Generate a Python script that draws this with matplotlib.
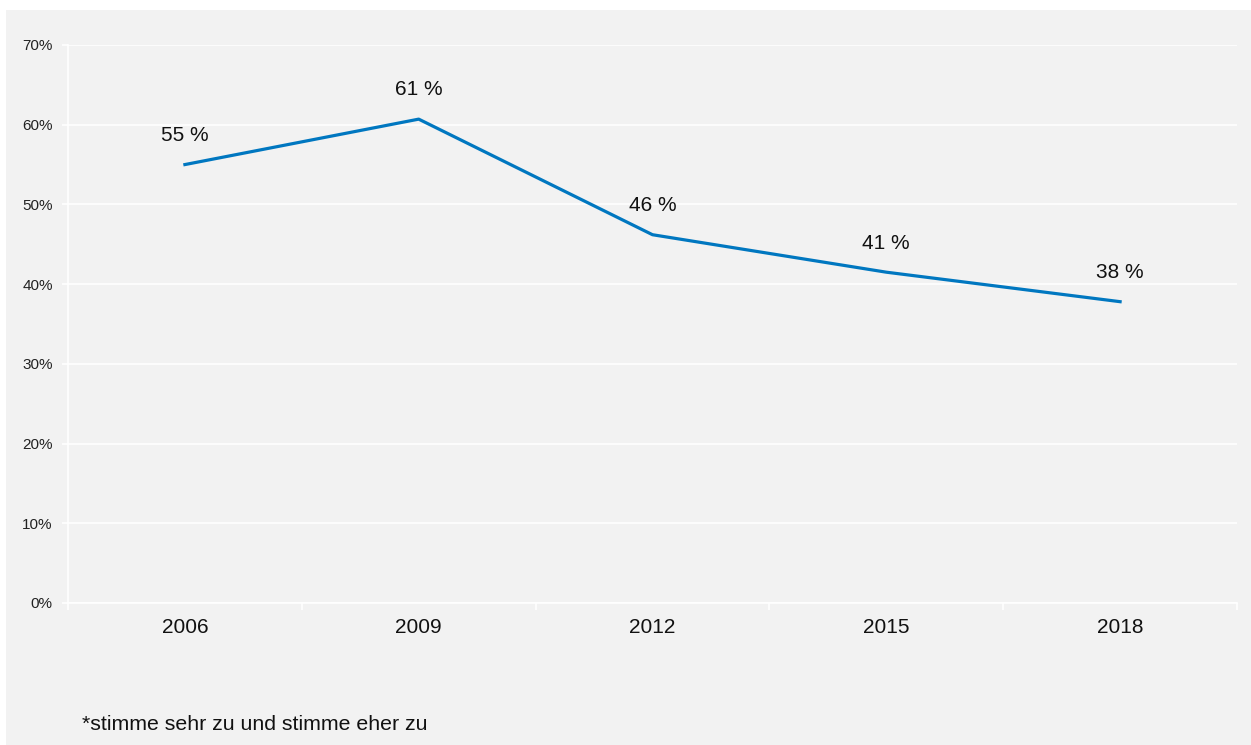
import matplotlib
matplotlib.use('Agg')
import matplotlib.pyplot as plt
from matplotlib.patches import Rectangle
import numpy as np

plt.rcParams['font.family'] = ['Liberation Sans', 'DejaVu Sans']

years = ['2006', '2009', '2012', '2015', '2018']
values = [55.0, 60.7, 46.2, 41.5, 37.8]
labels = ['55 %', '61 %', '46 %', '41 %', '38 %']
yticks = [0, 10, 20, 30, 40, 50, 60, 70]
footnote = '*stimme sehr zu und stimme eher zu'

BG = '#f2f2f2'
BLUE = '#0077c0'

fig = plt.figure(figsize=(12.51, 7.45), dpi=100, facecolor='white')
fig.patches.append(Rectangle((6 / 1251, 0), 1, 735 / 745, transform=fig.transFigure,
                             facecolor=BG, edgecolor='none', zorder=-10))

ax = fig.add_axes([68 / 1251, 142 / 745, 1169 / 1251, 558 / 745])
ax.set_facecolor(BG)

x = np.arange(len(years))
ax.plot(x, values, color=BLUE, linewidth=2.3, zorder=3)
for xi, v, lab in zip(x, values, labels):
    ax.annotate(lab, (xi, v), xytext=(0, 21), textcoords='offset points',
                ha='center', va='center', fontsize=15, color='#111111')

ax.set_xlim(-0.5, len(years) - 0.5)
ax.set_ylim(0, 70)
ax.set_yticks(yticks)
ax.set_yticklabels([f'{t}%' for t in yticks], fontsize=11, color='#222222')
ax.set_xticks(x)
ax.set_xticklabels(years, fontsize=15, color='#111111')
ax.set_xticks(np.arange(-0.5, len(years)), minor=True)

ax.grid(axis='y', color='white', linewidth=1.2)
ax.set_axisbelow(True)
for s in ['top', 'right']:
    ax.spines[s].set_visible(False)
for s in ['left', 'bottom']:
    ax.spines[s].set_color('white')
    ax.spines[s].set_linewidth(1.2)

ax.tick_params(axis='y', color='white', length=4, width=1.2, pad=7)
ax.tick_params(axis='x', which='major', length=0, pad=11)
ax.tick_params(axis='x', which='minor', color='white', length=5, width=1.2)

fig.text(82 / 1251, 1 - 725 / 745, footnote, fontsize=15.3, ha='left', va='center',
         color='#111111')

fig.savefig('out.png', dpi=100, facecolor='white')
